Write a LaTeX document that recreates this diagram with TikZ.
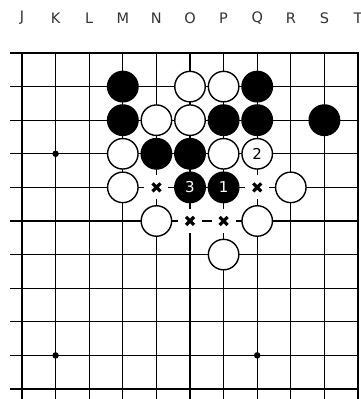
\documentclass[tikz,border=0pt]{standalone}
\usepackage{fontspec}
\setmainfont{DejaVu Sans}
\begin{document}
\begin{tikzpicture}[
    x=33.6pt, y=-33.6pt,
    gridline/.style={line width=1.35pt, black},
    border/.style={line width=2.6pt, black},
    stone/.style={circle, draw, line width=1.4pt, minimum size=30.5pt, inner sep=0pt, font=\fontsize{15}{15}\selectfont},
    bstone/.style={stone, fill=black, text=white},
    wstone/.style={stone, fill=white, text=black},
    hoshi/.style={circle, fill=black, minimum size=6.5pt, inner sep=0pt},
    xmark/.style={rectangle, fill=white, minimum size=24pt, inner sep=0pt,
        path picture={\draw[line width=3.2pt]
            ([shift={(-4pt,-4pt)}]path picture bounding box.center) -- ([shift={(4pt,4pt)}]path picture bounding box.center)
            ([shift={(-4pt,4pt)}]path picture bounding box.center) -- ([shift={(4pt,-4pt)}]path picture bounding box.center);}},
    collabel/.style={text=black!80, font=\fontsize{14.5}{14.5}\selectfont}
]
    \useasboundingbox (-0.655,-1.577) rectangle (10.06,10.298);

    % column letters
    \foreach \l [count=\i from 0] in {J,K,L,M,N,O,P,Q,R,S,T}
        \node[collabel] (lab\l) at (\i,-1.04) {\l};

    % board lines
    \foreach \r in {1,...,10}
        \draw[gridline] (-0.357,\r) -- (10,\r);
    \foreach \c in {0,...,9}
        \draw[gridline] (\c,0) -- (\c,10.3);
    \draw[border] (-0.357,0) -- (10,0) -- (10,10.3);

    % star points
    \node[hoshi] (K16) at (1,3) {};
    \node[hoshi] (K10) at (1,9) {};
    \node[hoshi] (Q10) at (7,9) {};

    % marked points
    \node[xmark] (N15) at (4,4) {};
    \node[xmark] (Q15) at (7,4) {};
    \node[xmark] (O14) at (5,5) {};
    \node[xmark] (P14) at (6,5) {};

    % black stones
    \node[bstone] (M18) at (3,1) {};
    \node[bstone] (Q18) at (7,1) {};
    \node[bstone] (M17) at (3,2) {};
    \node[bstone] (P17) at (6,2) {};
    \node[bstone] (Q17) at (7,2) {};
    \node[bstone] (S17) at (9,2) {};
    \node[bstone] (N16) at (4,3) {};
    \node[bstone] (O16) at (5,3) {};
    \node[bstone] (O15) at (5,4) {3};
    \node[bstone] (P15) at (6,4) {1};

    % white stones
    \node[wstone] (O18) at (5,1) {};
    \node[wstone] (P18) at (6,1) {};
    \node[wstone] (N17) at (4,2) {};
    \node[wstone] (O17) at (5,2) {};
    \node[wstone] (M16) at (3,3) {};
    \node[wstone] (P16) at (6,3) {};
    \node[wstone] (Q16) at (7,3) {2};
    \node[wstone] (M15) at (3,4) {};
    \node[wstone] (R15) at (8,4) {};
    \node[wstone] (N14) at (4,5) {};
    \node[wstone] (Q14) at (7,5) {};
    \node[wstone] (P13) at (6,6) {};
\end{tikzpicture}
\end{document}
